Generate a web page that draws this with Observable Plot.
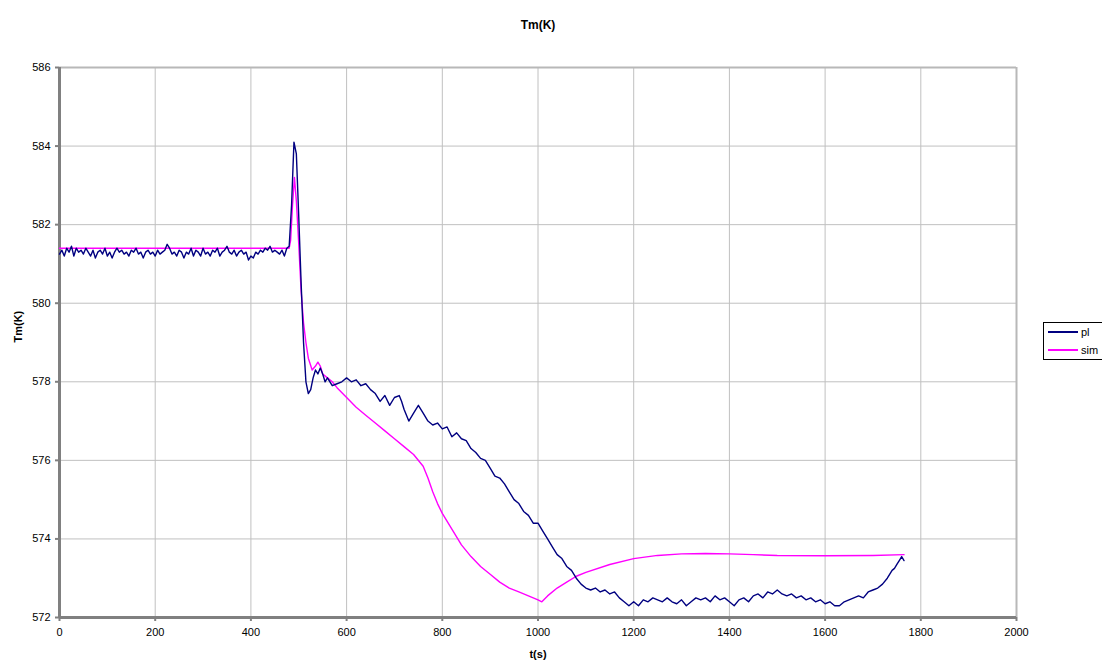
<!DOCTYPE html>
<html>
<head>
<meta charset="utf-8">
<script src="https://cdn.jsdelivr.net/npm/d3@7"></script>
<script src="https://cdn.jsdelivr.net/npm/@observablehq/plot@0.6"></script>
<style>
  body { margin: 0; background: white; font-family: "Liberation Sans", Arial, sans-serif; }
  #wrap { position: relative; width: 1102px; height: 664px; }
  #legend { position: absolute; left: 1043px; top: 322px; width: 62px; height: 36px; border: 1px solid #000; background: #fff; font-size: 11px; }
  .li { display: flex; align-items: center; height: 18px; padding-left: 4px; }
  .sw { width: 30px; height: 2px; margin-right: 3px; }
</style>
</head>
<body>
<div id="wrap"></div>
<script>
const title = "Tm(K)";
const xLabel = "t(s)";
const yLabel = "Tm(K)";
const xTicks = [0, 200, 400, 600, 800, 1000, 1200, 1400, 1600, 1800, 2000];
const yTicks = [572, 574, 576, 578, 580, 582, 584, 586];
const seriesNames = ["pl", "sim"];
const seriesColors = ["#000080", "#FF00FF"];

const plData = [
[0,581.25],[5,581.35],[10,581.2],[15,581.4],[20,581.3],[25,581.45],[30,581.2],[35,581.4],[40,581.3],[45,581.35],
[50,581.25],[55,581.4],[60,581.3],[65,581.2],[70,581.35],[75,581.15],[80,581.3],[85,581.35],[90,581.25],[95,581.4],
[100,581.2],[105,581.3],[110,581.15],[115,581.3],[120,581.4],[125,581.3],[130,581.35],[135,581.25],[140,581.3],[145,581.2],
[150,581.35],[155,581.3],[160,581.4],[165,581.25],[170,581.3],[175,581.15],[180,581.3],[185,581.35],[190,581.25],[195,581.3],
[200,581.2],[205,581.35],[210,581.25],[215,581.3],[220,581.35],[225,581.5],[230,581.4],[235,581.25],[240,581.3],[245,581.2],
[250,581.35],[255,581.3],[260,581.15],[265,581.3],[270,581.25],[275,581.4],[280,581.2],[285,581.35],[290,581.3],[295,581.2],
[300,581.4],[305,581.25],[310,581.3],[315,581.2],[320,581.35],[325,581.3],[330,581.4],[335,581.2],[340,581.3],[345,581.35],
[350,581.45],[355,581.3],[360,581.25],[365,581.35],[370,581.2],[375,581.3],[380,581.35],[385,581.25],[390,581.3],[395,581.1],
[400,581.2],[405,581.15],[410,581.3],[415,581.25],[420,581.35],[425,581.3],[430,581.4],[435,581.35],[440,581.45],[445,581.3],
[450,581.35],[455,581.3],[460,581.25],[465,581.35],[470,581.2],[475,581.4],[480,581.45],[485,582.5],[490,584.1],[495,583.8],
[500,582.2],[505,580.5],[510,579.0],[515,578.0],[520,577.7],[525,577.8],[530,578.1],[535,578.3],[540,578.2],[545,578.35],
[550,578.2],[555,578.0],[560,578.1],[570,577.9],[580,577.95],[590,578.0],[600,578.1],[610,578.0],[620,578.05],[630,577.9],
[640,577.95],[650,577.8],[660,577.7],[670,577.5],[680,577.65],[690,577.4],[700,577.6],[710,577.65],[715,577.5],[720,577.3],
[730,577.0],[740,577.2],[750,577.4],[760,577.2],[770,577.0],[780,576.9],[790,576.95],[800,576.8],[810,576.85],[820,576.6],
[830,576.7],[840,576.55],[850,576.5],[860,576.3],[870,576.2],[880,576.05],[890,576.0],[900,575.8],[910,575.6],[920,575.55],
[930,575.4],[940,575.2],[950,575.0],[960,574.9],[970,574.7],[980,574.6],[990,574.4],[1000,574.4],[1010,574.2],[1020,574.0],
[1030,573.8],[1040,573.6],[1050,573.5],[1060,573.3],[1070,573.2],[1080,573.0],[1090,572.85],[1100,572.75],[1110,572.7],[1120,572.75],
[1130,572.65],[1140,572.7],[1150,572.6],[1160,572.65],[1170,572.5],[1180,572.4],[1190,572.3],[1200,572.4],[1210,572.3],[1220,572.45],
[1230,572.4],[1240,572.5],[1250,572.45],[1260,572.4],[1270,572.5],[1280,572.4],[1290,572.35],[1300,572.45],[1310,572.3],[1320,572.4],
[1330,572.5],[1340,572.45],[1350,572.5],[1360,572.4],[1370,572.55],[1380,572.45],[1390,572.5],[1400,572.4],[1410,572.3],[1420,572.45],
[1430,572.5],[1440,572.4],[1450,572.55],[1460,572.6],[1470,572.5],[1480,572.65],[1490,572.6],[1500,572.7],[1510,572.6],[1520,572.55],
[1530,572.6],[1540,572.5],[1550,572.55],[1560,572.45],[1570,572.5],[1580,572.4],[1590,572.45],[1600,572.35],[1610,572.4],[1620,572.3],
[1630,572.3],[1640,572.4],[1650,572.45],[1660,572.5],[1670,572.55],[1680,572.5],[1690,572.65],[1700,572.7],[1710,572.75],[1720,572.85],
[1730,573.0],[1740,573.2],[1745,573.25],[1750,573.35],[1755,573.45],[1760,573.55],[1765,573.45]
];

const simData = [
[0,581.4],[100,581.4],[200,581.4],[300,581.4],[400,581.4],[480,581.4],[483,581.6],[487,582.5],[491,583.2],[495,582.6],
[500,581.5],[505,580.3],[510,579.5],[515,579.0],[520,578.6],[528,578.3],[535,578.4],[540,578.5],[545,578.4],[550,578.2],
[560,578.1],[570,578.0],[580,577.85],[600,577.6],[620,577.35],[640,577.15],[660,576.95],[680,576.75],[700,576.55],[720,576.35],
[740,576.15],[760,575.85],[770,575.55],[780,575.2],[790,574.9],[800,574.65],[820,574.25],[840,573.85],[860,573.55],[880,573.3],
[900,573.1],[920,572.9],[940,572.75],[960,572.65],[980,572.55],[1000,572.45],[1008,572.4],[1020,572.55],[1040,572.75],[1060,572.9],
[1080,573.05],[1100,573.15],[1150,573.35],[1200,573.5],[1250,573.58],[1300,573.62],[1350,573.63],[1400,573.62],[1450,573.6],[1500,573.58],
[1600,573.57],[1700,573.58],[1765,573.6]
];

const chart = Plot.plot({
  width: 1102,
  height: 664,
  marginLeft: 59,
  marginRight: 86,
  marginTop: 67,
  marginBottom: 47,
  style: { fontFamily: "'Liberation Sans', Arial, sans-serif", fontSize: "11px", background: "white", color: "#000", overflow: "visible" },
  x: { domain: [0, 2000] },
  y: { domain: [572, 586] },
  marks: [
    Plot.gridX(xTicks, { stroke: "#c0c0c0", strokeOpacity: 1, strokeWidth: 1 }),
    Plot.gridY(yTicks, { stroke: "#c0c0c0", strokeOpacity: 1, strokeWidth: 1 }),
    Plot.ruleY([586], { stroke: "#b8b8b8", strokeWidth: 2 }),
    Plot.ruleX([2000], { stroke: "#b8b8b8", strokeWidth: 2 }),
    Plot.ruleX([0], { stroke: "#808080", strokeWidth: 3 }),
    Plot.ruleY([572], { stroke: "#808080", strokeWidth: 3 }),
    Plot.axisX({ ticks: xTicks, tickSize: 4, tickPadding: 7, stroke: "#808080", strokeWidth: 2, label: null, tickFormat: d => String(d) }),
    Plot.axisY({ ticks: yTicks, tickSize: 4, tickPadding: 5, stroke: "#808080", strokeWidth: 2, label: null, tickFormat: d => String(d) }),
    Plot.line(simData, { x: d => d[0], y: d => d[1], stroke: seriesColors[1], strokeWidth: 1.4 }),
    Plot.line(plData, { x: d => d[0], y: d => d[1], stroke: seriesColors[0], strokeWidth: 1.4 }),
    Plot.text([title], { frameAnchor: "top", dy: -47, fontWeight: "bold", fontSize: 12, fill: "#000" }),
    Plot.text([xLabel], { frameAnchor: "bottom", dy: 40, fontWeight: "bold", fontSize: 11, fill: "#000" }),
    Plot.text([yLabel], { frameAnchor: "left", dx: -41, rotate: -90, fontWeight: "bold", fontSize: 11, fill: "#000" })
  ]
});
const wrap = document.getElementById("wrap");
wrap.appendChild(chart);

const legend = document.createElement("div");
legend.id = "legend";
seriesNames.forEach((name, i) => {
  const row = document.createElement("div");
  row.className = "li";
  const sw = document.createElement("span");
  sw.className = "sw";
  sw.style.background = seriesColors[i];
  const lab = document.createElement("span");
  lab.textContent = name;
  row.appendChild(sw);
  row.appendChild(lab);
  legend.appendChild(row);
});
wrap.appendChild(legend);
</script>
</body>
</html>
